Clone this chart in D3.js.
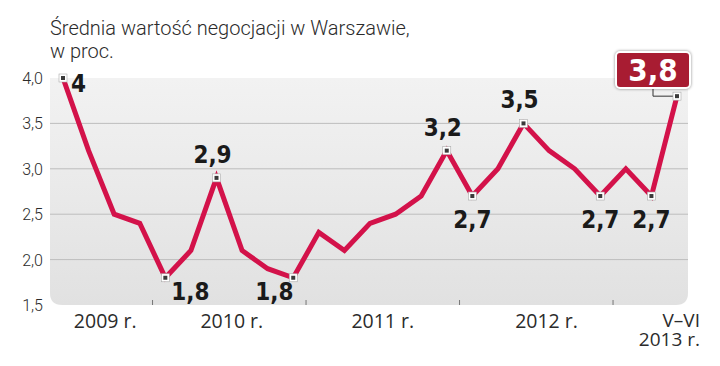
<!DOCTYPE html>
<html>
<head>
<meta charset="utf-8">
<script src="https://cdn.jsdelivr.net/npm/d3@7.9.0/dist/d3.min.js"></script>
<style>
  body { margin: 0; background: #fff; }
  svg { display: block; }
  .title { font-family: Roboto, sans-serif; font-weight: 300; font-size: 20px; fill: #2b2b2b; }
  .ytick { font-family: Roboto, sans-serif; font-weight: 300; font-size: 16px; fill: #2b2b2b; }
  .year { font-family: "Open Sans", sans-serif; font-weight: 400; font-size: 19.5px; fill: #2b2b2b; }
  .lbl { font-family: "DejaVu Sans Condensed", sans-serif; font-weight: bold; font-size: 24px; fill: #1a1a1a; }
</style>
</head>
<body>
<div id="chart"></div>
<script>
// bi-monthly values, 2009 .. V-VI 2013
const values = [4.0, 3.2, 2.5, 2.4, 1.8, 2.1, 2.9, 2.1, 1.9, 1.8, 2.3, 2.1, 2.4,
  2.5, 2.7, 3.2, 2.7, 3.0, 3.5, 3.2, 3.0, 2.7, 3.0, 2.7, 3.8];
const yTicks = [1.5, 2.0, 2.5, 3.0, 3.5, 4.0];
// year labels: position in point-index units
const yearLabels = [
  { text: '2009 r.', at: 1.65 },
  { text: '2010 r.', at: 6.6 },
  { text: '2011 r.', at: 12.5 },
  { text: '2012 r.', at: 18.9 }
];
const yearBreaks = [3.5, 9.5, 15.5, 21.5];
const lastLabel = ['V–VI', '2013 r.'];
// labelled points: index, text, placement
const callouts = [
  { i: 0, text: '4', pos: 'right' },
  { i: 4, text: '1,8', pos: 'belowRight' },
  { i: 6, text: '2,9', pos: 'above' },
  { i: 9, text: '1,8', pos: 'belowLeft' },
  { i: 15, text: '3,2', pos: 'above' },
  { i: 16, text: '2,7', pos: 'below' },
  { i: 18, text: '3,5', pos: 'above' },
  { i: 21, text: '2,7', pos: 'below' },
  { i: 23, text: '2,7', pos: 'below' }
];
const lastIdx = values.length - 1;

const width = 720, height = 366;
const panel = { left: 50, right: 688, top: 78, bottom: 305 };

const svg = d3.select('#chart').append('svg')
  .attr('width', width).attr('height', height);

const x = d3.scaleLinear().domain([0, lastIdx]).range([63, 677]);
const y = d3.scaleLinear().domain([1.5, 4.0]).range([panel.bottom, panel.top]);
const fmt = (d) => d.toFixed(1).replace('.', ',');

// title
svg.append('text').attr('class', 'title').attr('x', 50).attr('y', 35)
  .text('Średnia wartość negocjacji w Warszawie,');
svg.append('text').attr('class', 'title').attr('x', 50).attr('y', 58)
  .text('w proc.');

// panel background, gradient + rounded bottom corners
const defs = svg.append('defs');
const grad = defs.append('linearGradient').attr('id', 'bg')
  .attr('x1', 0).attr('y1', 0).attr('x2', 0).attr('y2', 1);
grad.append('stop').attr('offset', '0%').attr('stop-color', '#f2f2f2');
grad.append('stop').attr('offset', '100%').attr('stop-color', '#e1e1e1');

const r = 12;
const { left: pl, right: pr, top: pt, bottom: pb } = panel;
svg.append('path')
  .attr('d', `M${pl},${pt}H${pr}V${pb - r}Q${pr},${pb} ${pr - r},${pb}H${pl + r}Q${pl},${pb} ${pl},${pb - r}Z`)
  .attr('fill', 'url(#bg)');

// gridlines
svg.append('g').selectAll('line')
  .data(yTicks.filter((d) => d > 1.5 && d < 4.0))
  .join('line')
  .attr('x1', pl).attr('x2', pr)
  .attr('y1', (d) => y(d)).attr('y2', (d) => y(d))
  .attr('stroke', '#bdbdbd').attr('stroke-width', 1);

// y labels
svg.append('g').selectAll('text')
  .data(yTicks)
  .join('text')
  .attr('class', 'ytick')
  .attr('x', 43).attr('y', (d) => y(d) + 6)
  .attr('text-anchor', 'end')
  .text(fmt);

// year break ticks
svg.append('g').selectAll('line')
  .data(yearBreaks)
  .join('line')
  .attr('x1', (d) => x(d)).attr('x2', (d) => x(d))
  .attr('y1', pb - 5).attr('y2', pb)
  .attr('stroke', '#777').attr('stroke-width', 1);

// year labels
svg.append('g').selectAll('text')
  .data(yearLabels)
  .join('text')
  .attr('class', 'year')
  .attr('x', (d) => x(d.at)).attr('y', 328)
  .attr('text-anchor', 'middle')
  .text((d) => d.text);

// last period label, two lines in one text
svg.append('text')
  .attr('class', 'year')
  .style('font-size', '19px')
  .attr('text-anchor', 'end')
  .selectAll('tspan')
  .data(lastLabel)
  .join('tspan')
  .attr('x', 700).attr('y', (d, i) => 327 + i * 19)
  .text((d) => d);

// line
const line = d3.line().x((d, i) => x(i)).y((d) => y(d));
svg.append('path')
  .datum(values)
  .attr('d', line)
  .attr('fill', 'none')
  .attr('stroke', '#d3124a')
  .attr('stroke-width', 5)
  .attr('stroke-linejoin', 'miter')
  .attr('stroke-linecap', 'butt');

// connector from last point to the highlight box
const lx = x(lastIdx), ly = y(values[lastIdx]);
svg.append('path')
  .attr('d', `M${lx},${ly}H${lx - 24}V88`)
  .attr('fill', 'none').attr('stroke', '#333').attr('stroke-width', 1);

// markers
const marked = callouts.map((c) => c.i).concat([lastIdx]);
const mk = svg.append('g').selectAll('g')
  .data(marked)
  .join('g')
  .attr('transform', (i) => `translate(${x(i)},${y(values[i])})`);
mk.append('rect').attr('x', -4).attr('y', -4).attr('width', 8).attr('height', 8)
  .attr('fill', '#fff').attr('stroke', '#aaa').attr('stroke-width', 0.6);
mk.append('rect').attr('x', -2).attr('y', -2).attr('width', 4).attr('height', 4)
  .attr('fill', '#3a3a3a');

// callout labels
const offsets = {
  right: { dx: 8, dy: 14, anchor: 'start' },
  above: { dx: -4, dy: -15, anchor: 'middle' },
  below: { dx: 0, dy: 32, anchor: 'middle' },
  belowRight: { dx: 6, dy: 22, anchor: 'start' },
  belowLeft: { dx: -38, dy: 22, anchor: 'start' }
};
svg.append('g').selectAll('text')
  .data(callouts)
  .join('text')
  .attr('class', 'lbl')
  .attr('x', (d) => x(d.i) + offsets[d.pos].dx)
  .attr('y', (d) => y(values[d.i]) + offsets[d.pos].dy)
  .attr('text-anchor', (d) => offsets[d.pos].anchor)
  .text((d) => d.text);

// highlighted last value
const box = svg.append('g').attr('transform', `translate(${lx - 24},70)`);
box.append('rect').attr('x', -37).attr('y', -18).attr('width', 74).attr('height', 36)
  .attr('rx', 4)
  .attr('fill', '#a81c32').attr('stroke', '#fff').attr('stroke-width', 2)
  .style('filter', 'drop-shadow(0 0 1.5px rgba(0,0,0,0.45))');
box.append('text').attr('class', 'lbl')
  .attr('y', 11).attr('text-anchor', 'middle')
  .style('fill', '#fff').style('font-size', '31px')
  .text(fmt(values[lastIdx]));
</script>
</body>
</html>
